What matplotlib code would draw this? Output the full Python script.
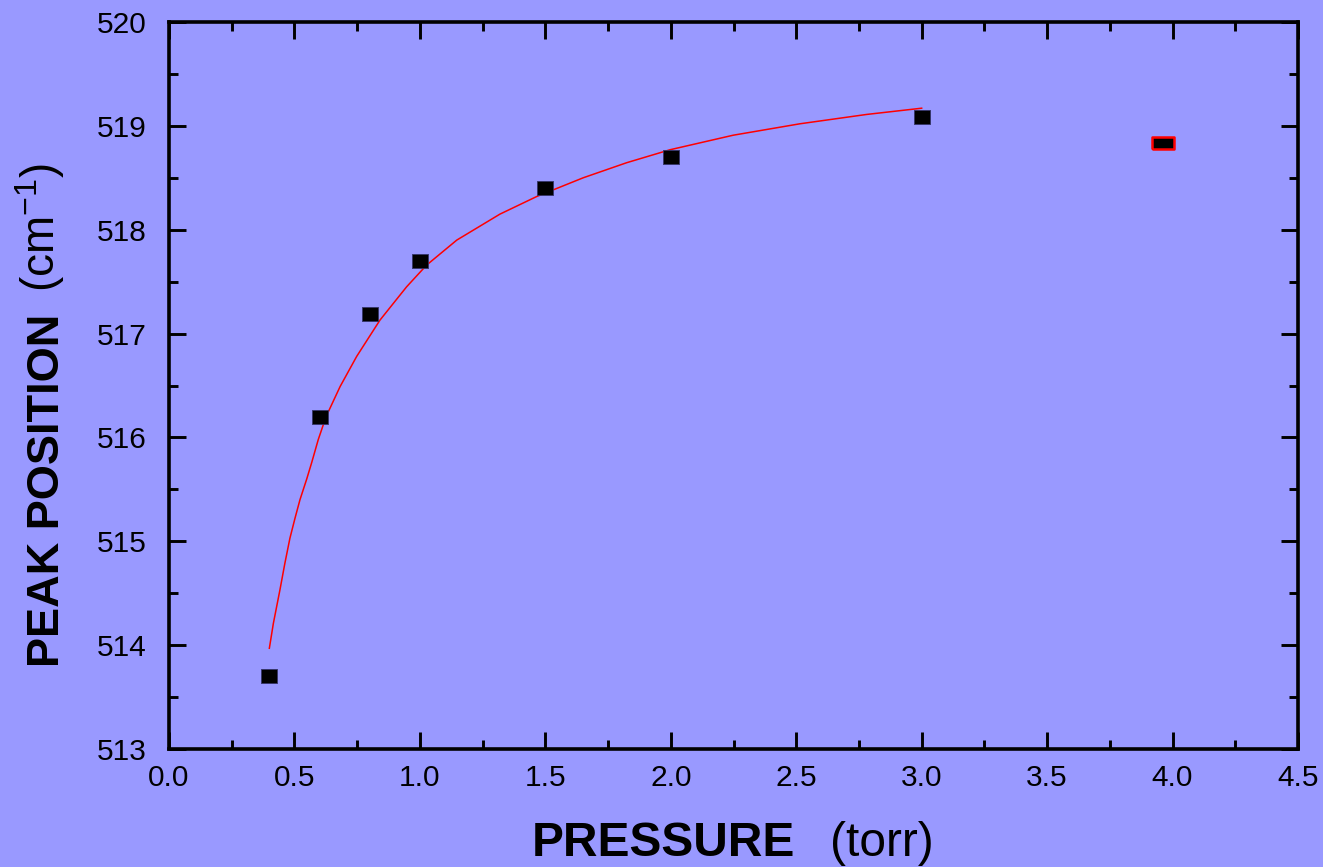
import matplotlib
matplotlib.use("Agg")
import matplotlib.pyplot as plt
from matplotlib.ticker import MultipleLocator, FormatStrFormatter

plt.rcParams["font.family"] = ["Liberation Sans", "DejaVu Sans"]
plt.rcParams["mathtext.fontset"] = "custom"
plt.rcParams["mathtext.rm"] = "Liberation Sans"
plt.rcParams["mathtext.it"] = "Liberation Sans"

# measured peak positions
pressure = [0.4, 0.6, 0.8, 1.0, 1.5, 2.0, 3.0]
peak = [513.70, 516.20, 517.19, 517.70, 518.40, 518.70, 519.09]

# outlier point (red outline)
pressure_out = [3.96]
peak_out = [518.835]

# fitted curve
fit_x = [0.400, 0.416, 0.442, 0.462, 0.482, 0.502, 0.522, 0.549, 0.569, 0.595,
         0.626, 0.682, 0.748, 0.841, 0.947, 1.027, 1.147, 1.319, 1.466, 1.651,
         1.824, 1.997, 2.249, 2.515, 2.781, 3.000]
fit_y = [513.97, 514.21, 514.53, 514.79, 515.03, 515.22, 515.40, 515.60, 515.76, 515.98,
         516.20, 516.49, 516.78, 517.13, 517.45, 517.66, 517.90, 518.15, 518.32, 518.50,
         518.645, 518.77, 518.91, 519.02, 519.11, 519.17]

BG = "#9999ff"

fig = plt.figure(figsize=(13.23, 8.67), dpi=100, facecolor=BG)
ax = fig.add_axes([169 / 1323, 1 - 749 / 867, (1298 - 169) / 1323, (749 - 22) / 867])
ax.set_facecolor(BG)

ax.plot(fit_x, fit_y, color="red", linewidth=1.1, zorder=2)

sq = [(-1, -0.88), (1, -0.88), (1, 0.88), (-1, 0.88), (-1, -0.88)]
ax.plot(pressure, peak, linestyle="none", marker=sq, markersize=12,
        markerfacecolor="black", markeredgecolor="#333366", markeredgewidth=0.6, zorder=3)
wide = [(-1, -0.6), (1, -0.6), (1, 0.6), (-1, 0.6), (-1, -0.6)]
ax.plot(pressure_out, peak_out, linestyle="none", marker=wide, markersize=15.5,
        markerfacecolor="black", markeredgecolor="red", markeredgewidth=1.8, zorder=3)

ax.set_xlim(0.0, 4.5)
ax.set_ylim(513, 520)
ax.xaxis.set_major_locator(MultipleLocator(0.5))
ax.xaxis.set_minor_locator(MultipleLocator(0.25))
ax.yaxis.set_major_locator(MultipleLocator(1))
ax.yaxis.set_minor_locator(MultipleLocator(0.5))
ax.xaxis.set_major_formatter(FormatStrFormatter("%.1f"))

for s in ax.spines.values():
    s.set_linewidth(2.6)
ax.tick_params(which="both", direction="in", top=True, right=True, width=2.1)
ax.tick_params(which="major", length=12.5, labelsize=21.5)
ax.tick_params(axis="x", which="major", pad=11)
ax.tick_params(axis="y", which="major", pad=16)
ax.tick_params(which="minor", length=6.5)

# axis titles: bold name + regular unit
fig.text(795 / 1323, 1 - 856 / 867, "PRESSURE", fontsize=34.5, fontweight="bold",
         ha="right", va="baseline")
fig.text(830 / 1323, 1 - 856 / 867, "(torr)", fontsize=34.5, ha="left", va="baseline")
fig.text(27 / 1323, 1 - 667 / 867, "PEAK POSITION", fontsize=32.5, fontweight="bold",
         rotation=90, ha="left", va="bottom")
fig.text(13 / 1323, 1 - 292 / 867, r"(cm$^{\mathregular{-1}}$)", fontsize=33,
         rotation=90, ha="left", va="bottom")

fig.savefig("out.png", dpi=100, facecolor=BG)
